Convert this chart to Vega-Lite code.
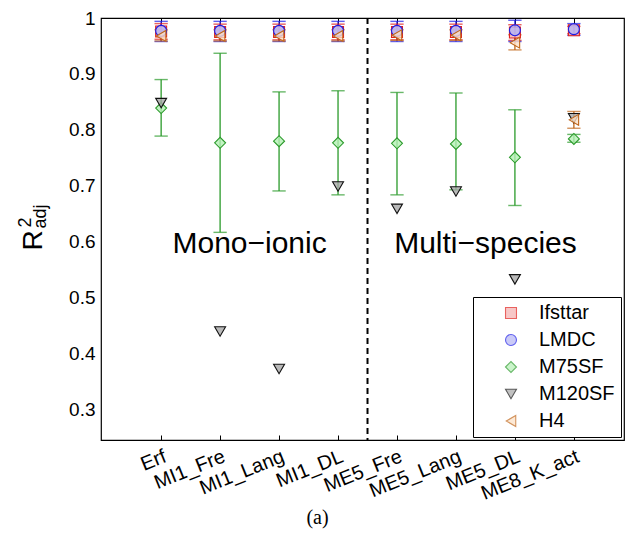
{
  "$schema": "https://vega.github.io/schema/vega-lite/v6.json",
  "width": 523,
  "height": 422,
  "autosize": "none",
  "padding": {"left": 101, "top": 18, "right": 2, "bottom": 94},
  "background": "white",
  "config": {
    "font": "Liberation Sans",
    "view": {"stroke": "black", "strokeWidth": 1.2},
    "axis": {"grid": false, "domain": false, "labelColor": "black", "titleColor": "black", "tickColor": "black", "titleFontWeight": "normal"},
    "legend": {"labelFontSize": 20, "labelColor": "black", "symbolSize": 120, "symbolStrokeWidth": 1.1}
  },
  "datasets": {
    "pts": [
      {"cat": 0, "series": "Ifsttar", "value": 0.976, "lo": 0.962, "hi": 0.990},
      {"cat": 1, "series": "Ifsttar", "value": 0.975, "lo": 0.961, "hi": 0.989},
      {"cat": 2, "series": "Ifsttar", "value": 0.975, "lo": 0.961, "hi": 0.989},
      {"cat": 3, "series": "Ifsttar", "value": 0.975, "lo": 0.961, "hi": 0.989},
      {"cat": 4, "series": "Ifsttar", "value": 0.975, "lo": 0.961, "hi": 0.989},
      {"cat": 5, "series": "Ifsttar", "value": 0.975, "lo": 0.961, "hi": 0.989},
      {"cat": 6, "series": "Ifsttar", "value": 0.974, "lo": 0.960, "hi": 0.988},
      {"cat": 7, "series": "Ifsttar", "value": 0.978, "lo": 0.972, "hi": 0.985},
      {"cat": 0, "series": "LMDC", "value": 0.977, "lo": 0.958, "hi": 0.994},
      {"cat": 1, "series": "LMDC", "value": 0.977, "lo": 0.958, "hi": 0.994},
      {"cat": 2, "series": "LMDC", "value": 0.977, "lo": 0.958, "hi": 0.994},
      {"cat": 3, "series": "LMDC", "value": 0.977, "lo": 0.958, "hi": 0.994},
      {"cat": 4, "series": "LMDC", "value": 0.977, "lo": 0.958, "hi": 0.994},
      {"cat": 5, "series": "LMDC", "value": 0.977, "lo": 0.958, "hi": 0.994},
      {"cat": 6, "series": "LMDC", "value": 0.978, "lo": 0.958, "hi": 0.996},
      {"cat": 7, "series": "LMDC", "value": 0.980, "lo": 0.969, "hi": 0.990},
      {"cat": 0, "series": "M75SF", "value": 0.839, "lo": 0.789, "hi": 0.890},
      {"cat": 1, "series": "M75SF", "value": 0.777, "lo": 0.617, "hi": 0.937},
      {"cat": 2, "series": "M75SF", "value": 0.780, "lo": 0.691, "hi": 0.868},
      {"cat": 3, "series": "M75SF", "value": 0.777, "lo": 0.684, "hi": 0.870},
      {"cat": 4, "series": "M75SF", "value": 0.776, "lo": 0.684, "hi": 0.867},
      {"cat": 5, "series": "M75SF", "value": 0.775, "lo": 0.693, "hi": 0.866},
      {"cat": 6, "series": "M75SF", "value": 0.751, "lo": 0.665, "hi": 0.836},
      {"cat": 7, "series": "M75SF", "value": 0.784, "lo": 0.778, "hi": 0.792},
      {"cat": 0, "series": "M120SF", "value": 0.848},
      {"cat": 1, "series": "M120SF", "value": 0.440},
      {"cat": 2, "series": "M120SF", "value": 0.373},
      {"cat": 3, "series": "M120SF", "value": 0.699},
      {"cat": 4, "series": "M120SF", "value": 0.659},
      {"cat": 5, "series": "M120SF", "value": 0.690},
      {"cat": 6, "series": "M120SF", "value": 0.533},
      {"cat": 7, "series": "M120SF", "value": 0.821},
      {"cat": 0, "series": "H4", "value": 0.968, "lo": 0.959, "hi": 0.979},
      {"cat": 1, "series": "H4", "value": 0.968, "lo": 0.959, "hi": 0.979},
      {"cat": 2, "series": "H4", "value": 0.968, "lo": 0.959, "hi": 0.979},
      {"cat": 3, "series": "H4", "value": 0.968, "lo": 0.959, "hi": 0.979},
      {"cat": 4, "series": "H4", "value": 0.969, "lo": 0.960, "hi": 0.979},
      {"cat": 5, "series": "H4", "value": 0.969, "lo": 0.960, "hi": 0.979},
      {"cat": 6, "series": "H4", "value": 0.956, "lo": 0.943, "hi": 0.970},
      {"cat": 7, "series": "H4", "value": 0.818, "lo": 0.803, "hi": 0.833}
    ],
    "notes": [
      {"label": "Mono−ionic", "cat": 1.5, "value": 0.597},
      {"label": "Multi−species", "cat": 5.5, "value": 0.597}
    ],
    "divider": [{"cat": 3.5}]
  },
  "layer": [
    {
      "data": {"name": "pts"},
      "transform": [{"filter": "isValid(datum.lo)"}],
      "mark": {"type": "rule", "strokeWidth": 1.3},
      "encoding": {
        "x": {"field": "cat", "type": "quantitative",
          "scale": {"domain": [-1.02, 7.85], "nice": false, "zero": false},
          "axis": {"orient": "bottom", "values": [0, 1, 2, 3, 4, 5, 6, 7],
            "labelExpr": "['Erf','MI1_Fre','MI1_Lang','MI1_DL','ME5_Fre','ME5_Lang','ME5_DL','ME8_K_act'][datum.value]",
            "labelAngle": -22, "labelAlign": "right", "labelBaseline": "top", "labelFontSize": 20,
            "labelOverlap": false, "labelBound": false, "labelFlush": false,
            "tickSize": -5, "tickWidth": 1, "labelPadding": 11,
            "title": "(a)", "titleFont": "Liberation Serif", "titleFontSize": 20,
            "titleX": 216, "titleY": 77, "titleBaseline": "middle", "titleAlign": "center"}},
        "y": {"field": "lo", "type": "quantitative",
          "scale": {"domain": [0.246, 1], "nice": false, "zero": false},
          "axis": {"orient": "left", "values": [0.3, 0.4, 0.5, 0.6, 0.7, 0.8, 0.9, 1], "format": "~g",
            "ticks": false, "labelPadding": 6, "labelFontSize": 19,
            "title": "R", "titleFontSize": 28, "titleAngle": 270, "titleX": -68, "titleY": 222,
            "titleAlign": "center", "titleBaseline": "middle"}},
        "y2": {"field": "hi"},
        "stroke": {"field": "series", "type": "nominal", "title": null,
          "scale": {"domain": ["Ifsttar", "LMDC", "M75SF", "M120SF", "H4"], "range": ["#e0201c", "#1c1ce6", "#2a9a2a", "#111111", "#c0661a"]}}
      }
    },
    {
      "data": {"name": "pts"},
      "transform": [{"filter": "isValid(datum.lo)"}],
      "mark": {"type": "tick", "orient": "horizontal", "size": 12, "thickness": 0.1, "filled": false, "strokeWidth": 1.3},
      "encoding": {
        "x": {"field": "cat", "type": "quantitative", "scale": {"domain": [-1.02, 7.85], "nice": false, "zero": false}, "axis": null},
        "y": {"field": "lo", "type": "quantitative",
          "scale": {"domain": [0.246, 1], "nice": false, "zero": false},
          "axis": {"orient": "right", "labels": false, "ticks": false, "domain": false,
            "title": "2", "titleFontSize": 18, "titleAngle": 270, "titleX": -599, "titleY": 204,
            "titleAlign": "center", "titleBaseline": "middle"}},
        "stroke": {"field": "series", "type": "nominal", "title": null,
          "scale": {"domain": ["Ifsttar", "LMDC", "M75SF", "M120SF", "H4"], "range": ["#e0201c", "#1c1ce6", "#2a9a2a", "#111111", "#c0661a"]}}
      }
    },
    {
      "data": {"name": "pts"},
      "transform": [{"filter": "isValid(datum.hi)"}],
      "mark": {"type": "tick", "orient": "horizontal", "size": 12, "thickness": 0.1, "filled": false, "strokeWidth": 1.3},
      "encoding": {
        "x": {"field": "cat", "type": "quantitative",
          "scale": {"domain": [-1.02, 7.85], "nice": false, "zero": false},
          "axis": {"orient": "top", "values": [0, 1, 2, 3, 4, 5, 6, 7], "labels": false, "domain": false,
            "tickSize": -6, "tickWidth": 1,
            "title": "adj", "titleFontSize": 18, "titleAngle": 270, "titleX": -61, "titleY": 198,
            "titleAlign": "center", "titleBaseline": "middle"}},
        "y": {"field": "hi", "type": "quantitative", "scale": {"domain": [0.246, 1], "nice": false, "zero": false}, "axis": null},
        "stroke": {"field": "series", "type": "nominal", "title": null,
          "scale": {"domain": ["Ifsttar", "LMDC", "M75SF", "M120SF", "H4"], "range": ["#e0201c", "#1c1ce6", "#2a9a2a", "#111111", "#c0661a"]}}
      }
    },
    {
      "data": {"name": "pts"},
      "mark": {"type": "point", "filled": false, "size": 120, "strokeWidth": 1.1, "opacity": 1, "fillOpacity": 0.8},
      "encoding": {
        "x": {"field": "cat", "type": "quantitative", "scale": {"domain": [-1.02, 7.85], "nice": false, "zero": false}, "axis": null},
        "y": {"field": "value", "type": "quantitative", "scale": {"domain": [0.246, 1], "nice": false, "zero": false}, "axis": null},
        "stroke": {"field": "series", "type": "nominal", "title": null,
          "scale": {"domain": ["Ifsttar", "LMDC", "M75SF", "M120SF", "H4"], "range": ["#e0201c", "#1c1ce6", "#2a9a2a", "#111111", "#c0661a"]},
          "legend": {"orient": "bottom-right", "offset": 3, "padding": 6, "rowPadding": 7, "symbolOffset": 22, "labelOffset": 18,
            "fillColor": "white", "strokeColor": "black", "symbolType": "circle"}},
        "fill": {"field": "series", "type": "nominal", "title": null,
          "scale": {"domain": ["Ifsttar", "LMDC", "M75SF", "M120SF", "H4"], "range": ["#f5b0b0", "#b4b4f5", "#b4f0b4", "#a8a8a8", "#fde0c4"]}},
        "shape": {"field": "series", "type": "nominal", "title": null,
          "scale": {"domain": ["Ifsttar", "LMDC", "M75SF", "M120SF", "H4"], "range": ["square", "circle", "diamond", "triangle-down", "triangle-left"]}}
      }
    },
    {
      "data": {"name": "divider"},
      "mark": {"type": "rule", "strokeDash": [6, 4], "strokeWidth": 2, "color": "black"},
      "encoding": {
        "x": {"field": "cat", "type": "quantitative", "scale": {"domain": [-1.02, 7.85], "nice": false, "zero": false}, "axis": null}
      }
    },
    {
      "data": {"name": "notes"},
      "mark": {"type": "text", "fontSize": 30, "font": "Liberation Sans", "align": "center", "baseline": "middle", "color": "black"},
      "encoding": {
        "x": {"field": "cat", "type": "quantitative", "scale": {"domain": [-1.02, 7.85], "nice": false, "zero": false}, "axis": null},
        "y": {"field": "value", "type": "quantitative", "scale": {"domain": [0.246, 1], "nice": false, "zero": false}, "axis": null},
        "text": {"field": "label"}
      }
    }
  ]
}
